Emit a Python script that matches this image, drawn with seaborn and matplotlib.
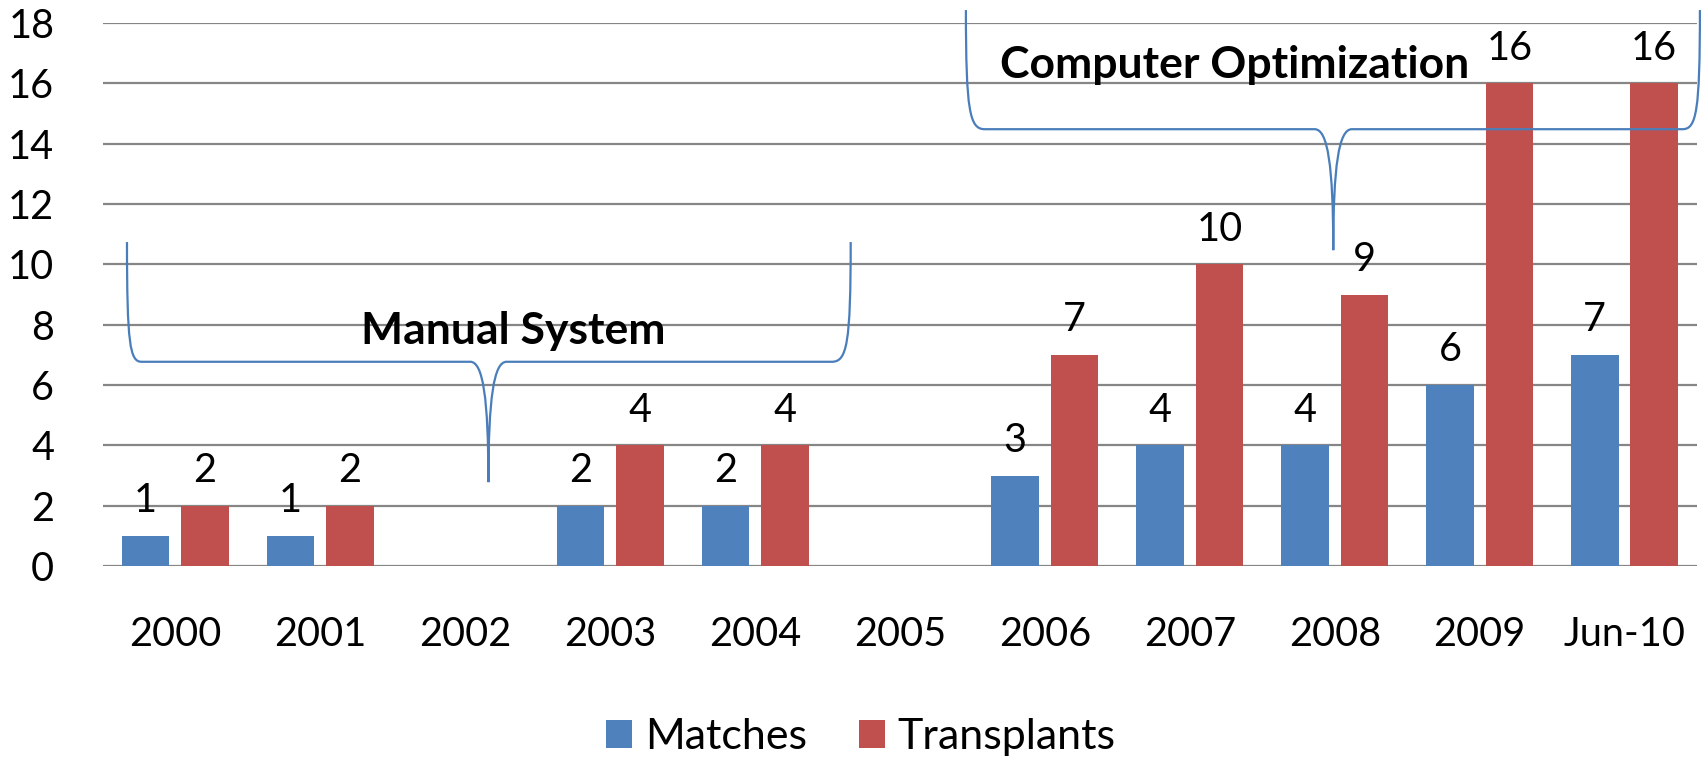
import numpy as np
import pandas as pd
import matplotlib
matplotlib.use("Agg")
import matplotlib.pyplot as plt
from matplotlib.path import Path
from matplotlib.patches import PathPatch
import seaborn as sns

sns.set_style("white")
plt.rcParams['font.family'] = ['Lato', 'DejaVu Sans']
plt.rcParams['text.color'] = 'black'
plt.rcParams['xtick.color'] = 'black'
plt.rcParams['ytick.color'] = 'black'

# values (None = no bar for that year)
years = ['2000', '2001', '2002', '2003', '2004', '2005', '2006', '2007', '2008', '2009', 'Jun-10']
matches = [1, 1, None, 2, 2, None, 3, 4, 4, 6, 7]
transplants = [2, 2, None, 4, 4, None, 7, 10, 9, 16, 16]
series = ['Matches', 'Transplants']
colors = {'Matches': '#4F81BD', 'Transplants': '#C0504D'}

df = pd.DataFrame({'year': years * 2,
                   'series': ['Matches'] * len(years) + ['Transplants'] * len(years),
                   'value': matches + transplants}).dropna()

FS = 28.5

fig = plt.figure(figsize=(17.04, 7.57), dpi=100)
ax = fig.add_axes([0.0604, 0.2523, 0.9355, 0.7173])

sns.barplot(data=df, x='year', y='value', hue='series', order=years, hue_order=series,
            palette=colors, saturation=1, width=0.82, gap=0.2, linewidth=0, ax=ax)

for c in ax.containers:
    ax.bar_label(c, fmt='%g', padding=12, fontsize=FS, color='black')

ax.set_ylim(0, 18)
ax.set_yticks(np.arange(0, 19, 2))
ax.set_xlim(-0.5, len(years) - 0.5)
ax.yaxis.grid(True, color='#868686', lw=1.6)
ax.set_axisbelow(True)
for s in ax.spines.values():
    s.set_visible(False)
ax.set_xlabel('')
ax.set_ylabel('')
ax.tick_params(axis='y', length=0, pad=35, labelsize=FS, labelcolor='black')
ax.tick_params(axis='x', length=0, pad=36, labelsize=FS, labelcolor='black')

sns.move_legend(ax, 'center', bbox_to_anchor=(0.4755, -0.315), ncol=2, frameon=False,
                title=None, fontsize=31, handlelength=0.6, handleheight=0.6,
                handletextpad=0.3, columnspacing=1.2)


def brace(ax, x0, x1, xc, ytop, ymid, ybot, d0, d1, w):
    h = ymid - ybot
    verts = [(x0, ytop),
             (x0, ymid + 0.15 * (ytop - ymid)), (x0 + 0.2 * d0, ymid), (x0 + d0, ymid),
             (xc - w, ymid),
             (xc - 0.3 * w, ymid), (xc, ymid - 0.3 * h), (xc, ybot),
             (xc, ymid - 0.3 * h), (xc + 0.3 * w, ymid), (xc + w, ymid),
             (x1 - d1, ymid),
             (x1 - 0.2 * d1, ymid), (x1, ymid + 0.15 * (ytop - ymid)), (x1, ytop)]
    codes = [Path.MOVETO] + [Path.CURVE4] * 3 + [Path.LINETO] + [Path.CURVE4] * 6 + \
            [Path.LINETO] + [Path.CURVE4] * 3
    ax.add_patch(PathPatch(Path(verts, codes), fill=False, edgecolor='#4A7EBB',
                           lw=1.6, clip_on=False, zorder=5))


brace(ax, -0.334, 4.66, 2.16, 10.74, 6.77, 2.78, 0.1, 0.13, 0.125)
brace(ax, 5.455, 10.52, 7.99, 18.43, 14.48, 10.47, 0.13, 0.12, 0.128)

ax.text(2.33, 7.78, 'Manual System', ha='center', va='center', fontsize=32,
        fontweight='bold', color='black', zorder=6)
ax.text(7.31, 16.6, 'Computer Optimization', ha='center', va='center', fontsize=32,
        fontweight='bold', color='black', zorder=6)

fig.savefig('out.png', dpi=100)
